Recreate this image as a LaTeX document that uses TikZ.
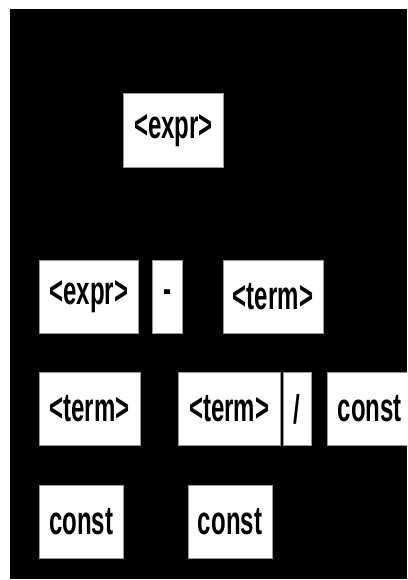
\documentclass[tikz,border=0pt]{standalone}
\usepackage{fontspec}
\usepackage{tikz}
\newfontfamily\symfont[FakeStretch=0.6]{Liberation Sans}

\begin{document}
\begin{tikzpicture}[x=1pt,y=-1pt,
	sym/.style={fill=white,draw=black!40,line width=0.4pt,inner sep=0pt,
		minimum height=73pt,font=\symfont\bfseries\fontsize{40}{40}\selectfont}]
	\clip (0,0) rectangle (407,580);
	\fill[white] (0,0) rectangle (407,580);
	\fill[black] (10,9) rectangle (407,579);
	% root
	\node[sym,minimum width=100pt] (expr) at (173.5,130.2) {<expr>};
	% expr - term
	\node[sym,minimum width=99pt] (exprl) at (88.8,296.3) {<expr>};
	\node[sym,minimum width=29.4pt] (minus) at (167,296.3) {\raisebox{-4pt}{-}};
	\node[sym,minimum width=100.6pt] (termr) at (273,296.3) {<term>};
	% term / const
	\node[sym,minimum width=101pt] (terml) at (89.5,409) {<term>};
	\node[sym,minimum width=101.3pt] (termm) at (229.3,409) {<term>};
	\node[sym,minimum width=28pt] (slash) at (297.3,409) {/};
	\node[sym,minimum width=85pt] (constr) at (369.8,409) {const};
	% leaves
	\node[sym,minimum width=84.7pt] (constl) at (81.3,521.8) {const};
	\node[sym,minimum width=84.6pt] (constm) at (230,521.8) {const};
\end{tikzpicture}
\end{document}
